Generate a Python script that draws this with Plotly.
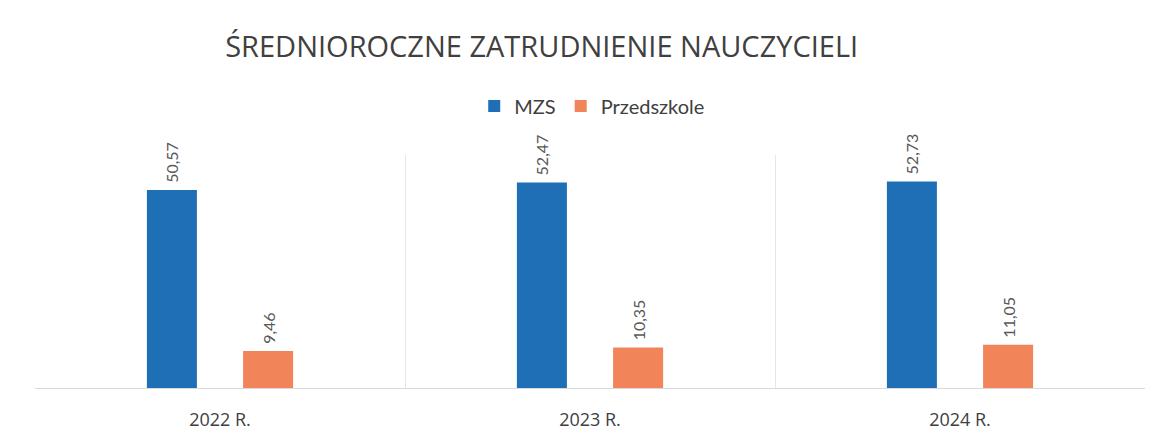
import plotly.graph_objects as go

years = ["2022 R.", "2023 R.", "2024 R."]
mzs = [50.57, 52.47, 52.73]
przedszkole = [9.46, 10.35, 11.05]

blue = "#1F6FB6"
orange = "#F2845A"
label_font = dict(family="Lato, Open Sans, sans-serif", size=16, color="#595959")

fig = go.Figure()
fig.add_trace(go.Bar(
    name="MZS", x=years, y=mzs, marker=dict(color=blue, line=dict(width=0)),
    texttemplate="\u00a0%{y:.2f}", textposition="outside", textangle=-90,
    textfont=label_font, cliponaxis=False,
))
fig.add_trace(go.Bar(
    name="Przedszkole", x=years, y=przedszkole, marker=dict(color=orange, line=dict(width=0)),
    texttemplate="\u00a0%{y:.2f}", textposition="outside", textangle=-90,
    textfont=label_font, cliponaxis=False,
))

fig.update_layout(
    width=1155, height=444,
    paper_bgcolor="white", plot_bgcolor="white",
    separators=", ",
    barmode="group", bargap=0.48, bargroupgap=0.48,
    margin=dict(l=35, r=10, t=155, b=56),
    title=dict(
        text="ŚREDNIOROCZNE ZATRUDNIENIE NAUCZYCIELI",
        font=dict(family="Open Sans, Lato, sans-serif", size=29, color="#404040"),
        x=0.469, xanchor="center", y=1 - 47 / 444, yanchor="middle", yref="container",
    ),
    legend=dict(
        orientation="h", x=0.502, xanchor="center", y=1.21, yanchor="middle",
        font=dict(family="Lato, Open Sans, sans-serif", size=20, color="#404040"),
        itemwidth=30, traceorder="normal",
    ),
)
fig.update_xaxes(
    type="category", tickson="boundaries", showgrid=True, gridcolor="#E6E6E6", gridwidth=1,
    showline=True, linecolor="#D9D9D9", ticks="", ticklabelstandoff=15,
    tickfont=dict(family="Open Sans, Lato, sans-serif", size=18, color="#404040"),
    zeroline=False,
)
fig.update_yaxes(range=[0, 59.5], visible=False, showgrid=False, zeroline=False)

fig.write_html("out.html", config={"displayModeBar": False},
               post_script="document.body.style.margin='0';")
